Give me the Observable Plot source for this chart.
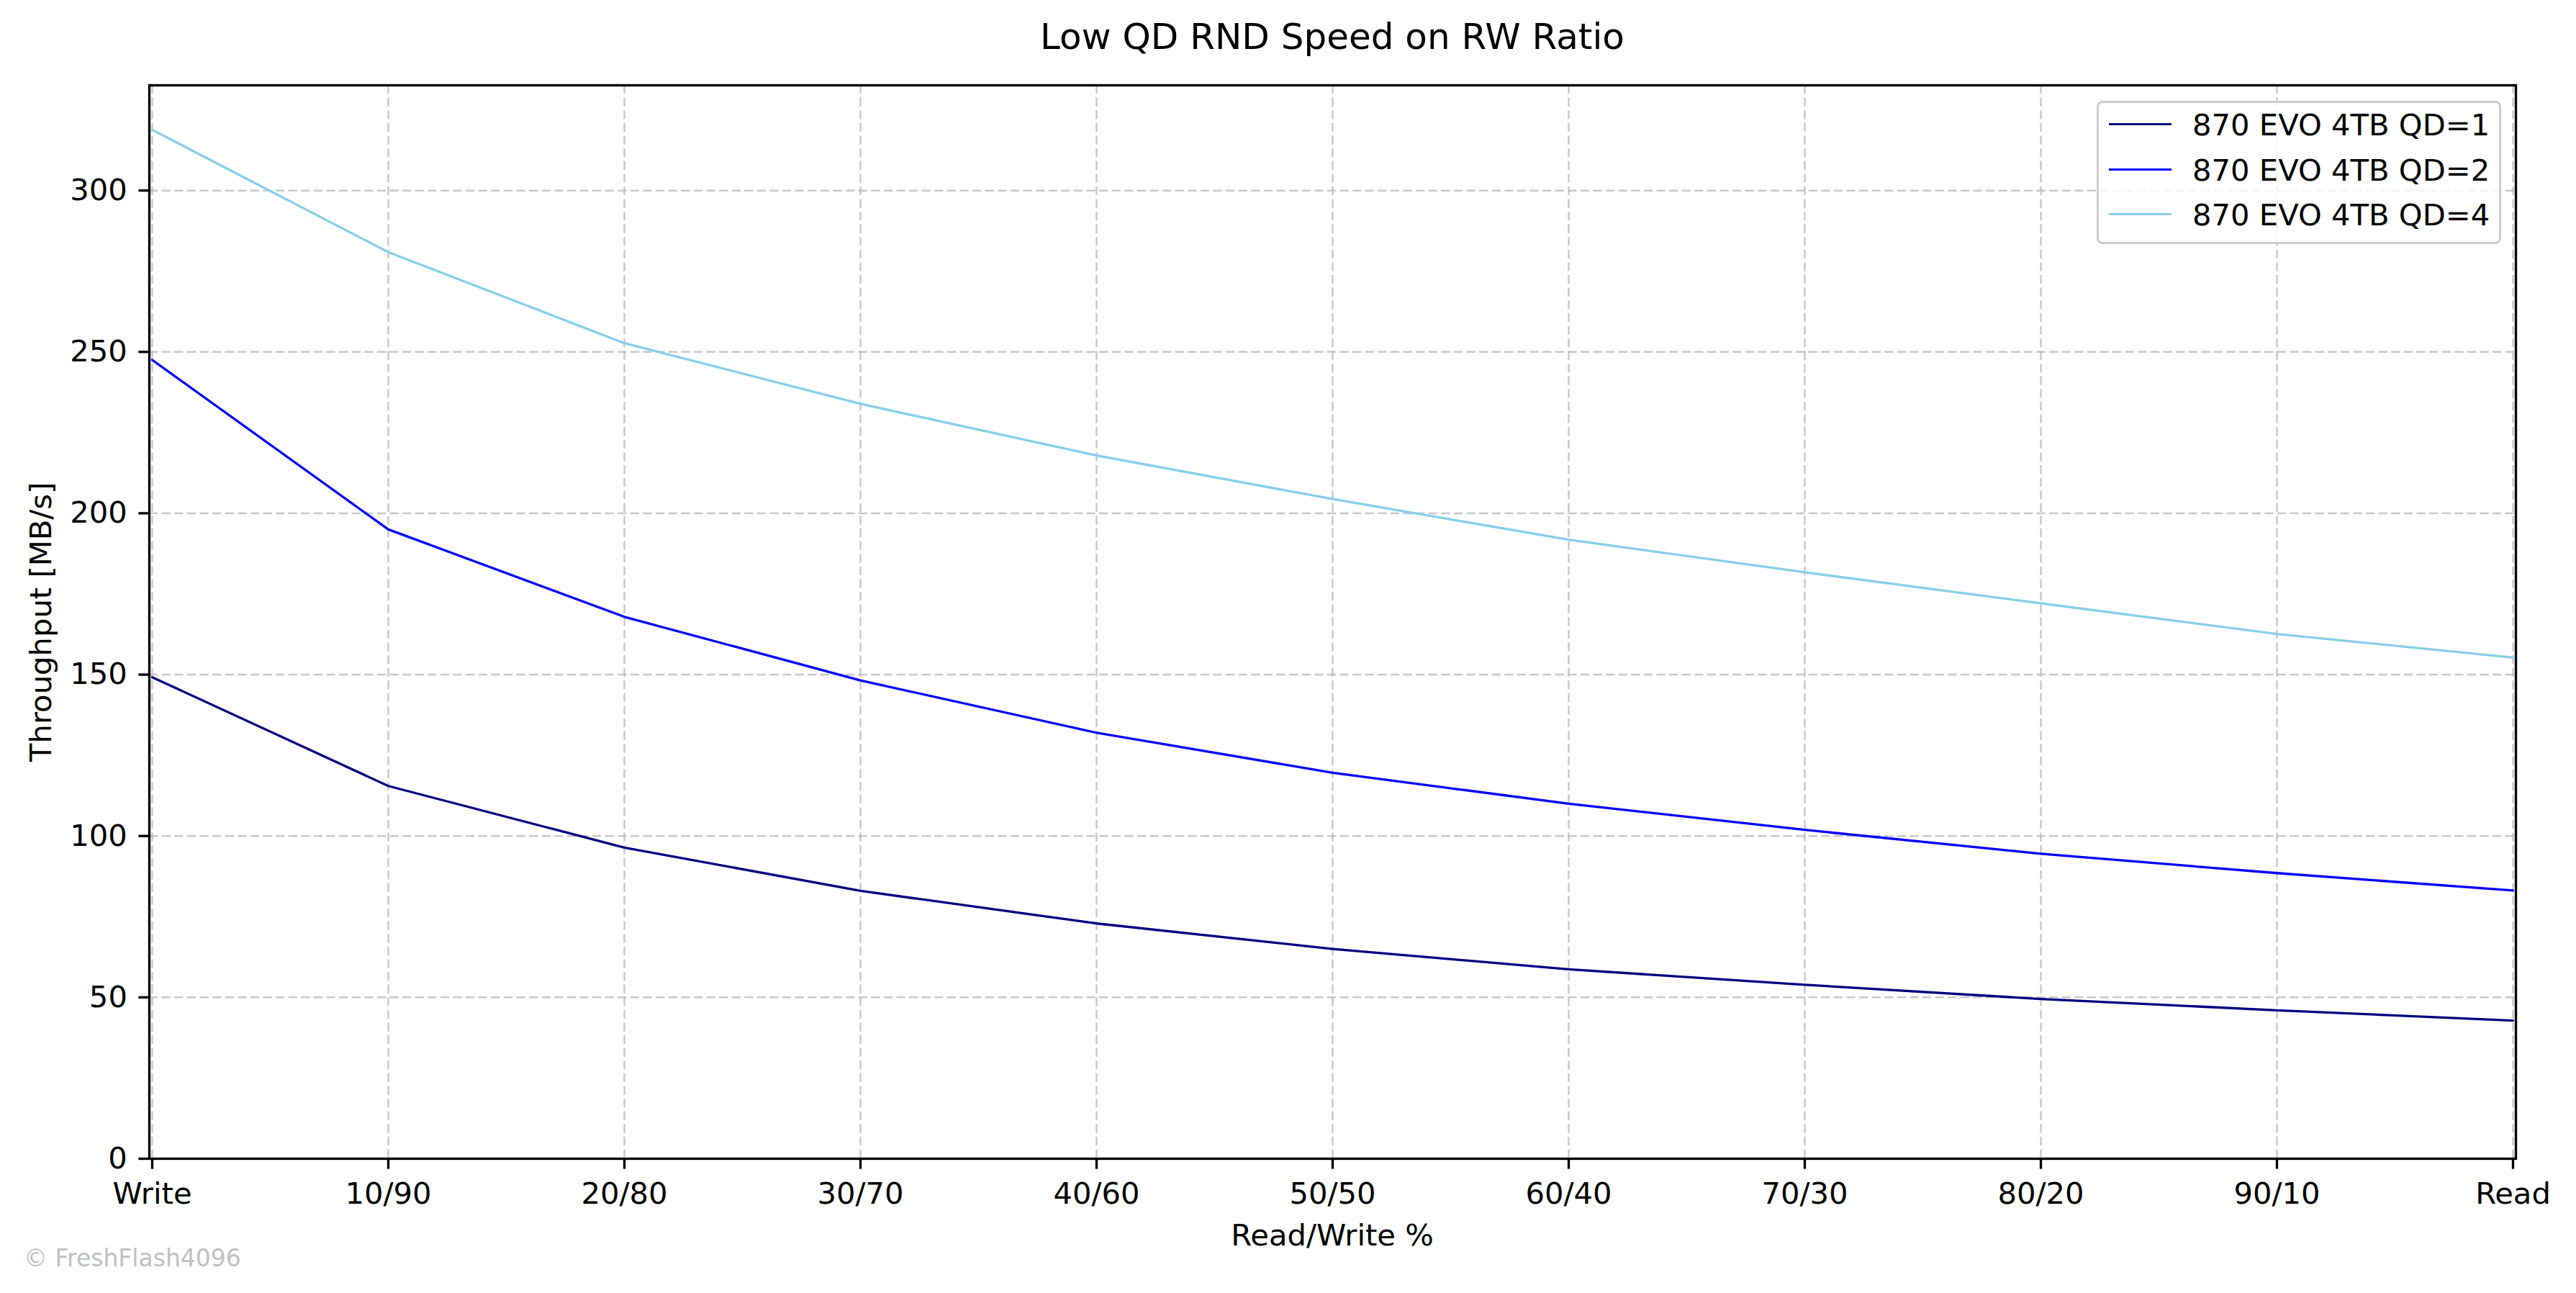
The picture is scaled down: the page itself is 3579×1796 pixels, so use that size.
<!DOCTYPE html>
<html>
<head>
<meta charset="utf-8">
<script src="https://cdn.jsdelivr.net/npm/d3@7"></script>
<script src="https://cdn.jsdelivr.net/npm/@observablehq/plot@0.6"></script>
<style>
  html, body { margin: 0; padding: 0; background: #ffffff; }
  #wrap { position: relative; width: 3579px; height: 1796px; font-family: "DejaVu Sans", sans-serif; color: #000; overflow: hidden; }
  .txt { position: absolute; line-height: 1; white-space: nowrap; }
  #legend { position: absolute; left: 2913px; top: 140px; width: 562px; height: 199px; box-sizing: border-box;
            border: 3.3px solid #cccccc; border-radius: 8px; background: rgba(255,255,255,0.8); }
  .sw { position: absolute; left: 14px; width: 87px; height: 3.2px; }
  .lt { position: absolute; left: 130px; font-size: 41.7px; line-height: 1; white-space: nowrap; }
</style>
</head>
<body>
<div id="wrap"></div>
<script>
// ---- data ----
const categories = ["Write", "10/90", "20/80", "30/70", "40/60", "50/50", "60/40", "70/30", "80/20", "90/10", "Read"];
const seriesNames = ["870 EVO 4TB QD=1", "870 EVO 4TB QD=2", "870 EVO 4TB QD=4"];
const qd1 = [149.2, 115.5, 96.4, 83.0, 72.9, 65.0, 58.7, 53.9, 49.5, 46.0, 42.8];
const qd2 = [247.5, 195.0, 167.9, 148.2, 132.0, 119.6, 110.0, 101.9, 94.5, 88.5, 83.1];
const qd4 = [318.8, 280.9, 252.7, 233.9, 217.9, 204.4, 191.8, 181.7, 172.1, 162.6, 155.3];
const seriesColors = ["#000080", "#0000ff", "#87ceeb"];
const yTicks = [0, 50, 100, 150, 200, 250, 300];
const titleText = "Low QD RND Speed on RW Ratio";
const xLabel = "Read/Write %";
const yLabel = "Throughput [MB/s]";
const credit = "© FreshFlash4096";

// long-format table built from the arrays
const seriesValues = [qd1, qd2, qd4];
const rows = [];
seriesNames.forEach((name, si) => {
  categories.forEach((c, i) => rows.push({series: name, cat: c, value: seriesValues[si][i]}));
});

const gridStyle = {stroke: "#b0b0b0", strokeOpacity: 0.7, strokeWidth: 2.5, strokeDasharray: "12.3,5.3"};

const chart = Plot.plot({
  width: 3579,
  height: 1796,
  marginLeft: 207,
  marginRight: 84,
  marginTop: 118,
  marginBottom: 187,
  style: {background: "#ffffff", fontFamily: "DejaVu Sans", fontSize: "41.7px", color: "#000"},
  x: {type: "point", domain: categories, padding: 0, label: null},
  y: {domain: [0, 332.6], label: null},
  color: {domain: seriesNames, range: seriesColors},
  marks: [
    Plot.gridY(yTicks, gridStyle),
    Plot.gridX(categories, gridStyle),
    Plot.line(rows, {x: "cat", y: "value", z: "series", stroke: "series", strokeWidth: 3.3, strokeLinejoin: "round"}),
    Plot.frame({stroke: "#000", strokeWidth: 3.33}),
    Plot.axisX(categories, {tickSize: 14.6, tickPadding: 18.5, strokeWidth: 3.33, fontSize: 41.7, label: null}),
    Plot.axisY(yTicks, {tickSize: 14.6, tickPadding: 16, strokeWidth: 3.33, fontSize: 41.7, label: null})
  ]
});

const wrap = document.getElementById("wrap");
wrap.appendChild(chart);

function addText(text, css) {
  const d = document.createElement("div");
  d.className = "txt";
  d.textContent = text;
  Object.assign(d.style, css);
  wrap.appendChild(d);
  return d;
}

// title (centered on axes)
addText(titleText, {left: "207px", width: "3288px", textAlign: "center", top: "26px", fontSize: "50px"});
// x label
addText(xLabel, {left: "207px", width: "3288px", textAlign: "center", top: "1694.7px", fontSize: "41.7px"});
// y label (rotated)
addText(yLabel, {left: (56.6 - 400) + "px", width: "800px", textAlign: "center", top: (863.5 - 20.85) + "px",
                 height: "41.7px", fontSize: "41.7px", transform: "rotate(-90deg)", transformOrigin: "50% 50%"});
// credit
addText(credit, {left: "33px", top: "1731px", fontSize: "33px", color: "#bfbfbf"});

// legend
const legend = document.createElement("div");
legend.id = "legend";
const rowCenters = [173, 236, 298];
seriesNames.forEach((name, i) => {
  const cy = rowCenters[i] - 140 - 3.3;
  const sw = document.createElement("div");
  sw.className = "sw";
  sw.style.top = (cy - 1.6) + "px";
  sw.style.background = seriesColors[i];
  legend.appendChild(sw);
  const t = document.createElement("div");
  t.className = "lt";
  t.textContent = name;
  t.style.top = (cy + 15.2 - 35.3) + "px";
  legend.appendChild(t);
});
wrap.appendChild(legend);
</script>
</body>
</html>
